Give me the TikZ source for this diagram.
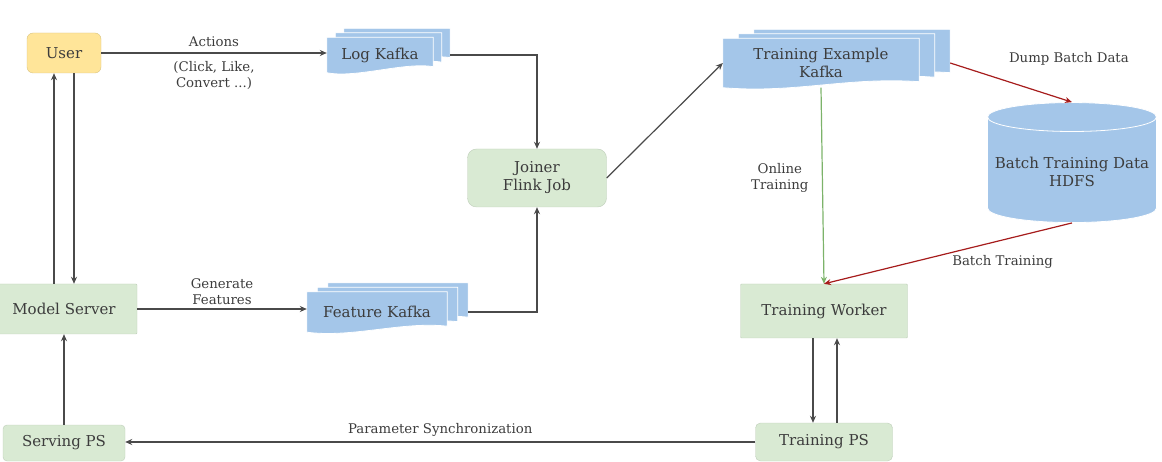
\documentclass[tikz,border=0pt]{standalone}
\usepackage{fontspec}
\setmainfont{DejaVu Serif}
\usetikzlibrary{arrows.meta,shapes.geometric,backgrounds}

\definecolor{kafkablue}{HTML}{A4C6E9}
\definecolor{jobgreen}{HTML}{D9EAD3}
\definecolor{useryellow}{HTML}{FFE599}
\definecolor{inkgray}{HTML}{3C3C3C}
\definecolor{flowgray}{HTML}{4A4A4A}
\definecolor{batchred}{HTML}{A61C1C}
\definecolor{onlinegreen}{HTML}{7CB36A}

% stacked sheets behind a kafka node, #2 = horizontal step
\newcommand{\kafkasheets}[2]{%
    \begin{scope}[on background layer]
        \foreach \k in {2,1,0} {
            \path[sheet] ([xshift=#2*\k,yshift=4.5*\k]#1.south west)
            -- ([xshift=#2*\k,yshift=4.5*\k]#1.north west)
            -- ([xshift=#2*\k,yshift=4.5*\k]#1.north east)
            -- ([xshift=#2*\k,yshift=4.5*\k+6]#1.south east)
            .. controls ([xshift=#2*\k+25,yshift=4.5*\k+11]#1.south)
            and ([xshift=#2*\k-25,yshift=4.5*\k-6]#1.south)
            .. ([xshift=#2*\k,yshift=4.5*\k]#1.south west) -- cycle;
        }
    \end{scope}
    \coordinate (#1 back) at ([xshift=2*#2]#1.east);
}

\begin{document}
\begin{tikzpicture}[
                x=1pt, y=-1pt,
                every node/.style={text=inkgray},
                box/.style={fill=jobgreen, draw=jobgreen!88!black, line width=0.4pt,
                    font=\fontsize{15}{18}\selectfont, align=center},
                kafka/.style={font=\fontsize{15}{18}\selectfont, align=center},
                sheet/.style={fill=kafkablue, draw=white, line width=0.8pt},
                hdfs/.style={cylinder, shape border rotate=90, aspect=0.18,
                    fill=kafkablue, draw=white, line width=0.8pt,
                    font=\fontsize{15}{18}\selectfont, align=center},
                flow/.style={draw=flowgray, line width=1.2pt, -{Stealth[length=7pt,width=6pt]}},
                lbl/.style={font=\fontsize{13.3}{16}\selectfont, align=center}
            ]
            \useasboundingbox (0,0) rectangle (1162,462);

            % serving side
            \node[box, fill=useryellow, draw=useryellow!85!black, rounded corners=6pt,
                minimum width=74, minimum height=40] (user) at (64,53) {User};
            \node[box, rounded corners=1pt, minimum width=146, minimum height=50] (modelserver) at (64,309) {Model Server};
            \node[box, rounded corners=4pt, minimum width=122, minimum height=36] (servingps) at (64,443) {Serving PS};

            % streams
            \node[kafka, minimum width=106, minimum height=35] (logkafka) at (380,55) {Log Kafka};
            \node[kafka, minimum width=140, minimum height=40] (featurekafka) at (377,312) {Feature Kafka};
            \node[box, rounded corners=9pt, minimum width=139, minimum height=58] (joiner) at (537,178) {Joiner\\Flink Job};
            \node[kafka, minimum width=196, minimum height=49] (trainkafka) at (821,63) {Training Example\\Kafka};
            \kafkasheets{logkafka}{8.5}
            \kafkasheets{featurekafka}{10.5}
            \kafkasheets{trainkafka}{15.5}

            % training side
            \node[hdfs, minimum width=169, minimum height=120] (hdfs) at (1072,172) {Batch Training Data\\HDFS};
            \node[box, rounded corners=1pt, minimum width=167, minimum height=54] (worker) at (824,311) {Training Worker};
            \node[box, rounded corners=5pt, minimum width=137, minimum height=38] (trainps) at (824,442) {Training PS};

            % connectors
            \draw[flow] (user.east) -- (user.east -| logkafka.west)
            node[lbl, midway, above=2pt] {Actions}
            node[lbl, midway, below=4pt] {(Click, Like,\\Convert ...)};
            \draw[flow] (logkafka back) -| (joiner.north);
            \draw[flow] (featurekafka back) -| (joiner.south);
            \draw[flow] (modelserver.east) -- (modelserver.east -| featurekafka.west)
            node[lbl, midway, above=0pt] {Generate\\Features};
            \draw[flow] (joiner.east) -- (trainkafka.west);
            \draw[flow, draw=batchred] (trainkafka back) -- (hdfs.north)
            node[lbl, midway, anchor=south west, xshift=-6, yshift=13] {Dump Batch Data};
            \draw[flow, draw=onlinegreen] (trainkafka.south) -- (worker.north)
            node[lbl, pos=0.46, left=10pt] {Online\\Training};
            \draw[flow, draw=batchred] (hdfs.south) -- (worker.north)
            node[lbl, pos=0.28, below=11pt] {Batch Training};
            \draw[flow] ([xshift=-11]worker.south) -- ([xshift=-11]trainps.north);
            \draw[flow] ([xshift=13]trainps.north) -- ([xshift=13]worker.south);
            \draw[flow] (trainps.west) -- (trainps.west -| servingps.east)
            node[lbl, midway, above=2pt] {Parameter Synchronization};
            \draw[flow] (servingps.north) -- (modelserver.south);
            \draw[flow] ([xshift=-10]modelserver.north) -- ([xshift=-10]user.south);
            \draw[flow] ([xshift=10]user.south) -- ([xshift=10]modelserver.north);
        \end{tikzpicture}
\end{document}
